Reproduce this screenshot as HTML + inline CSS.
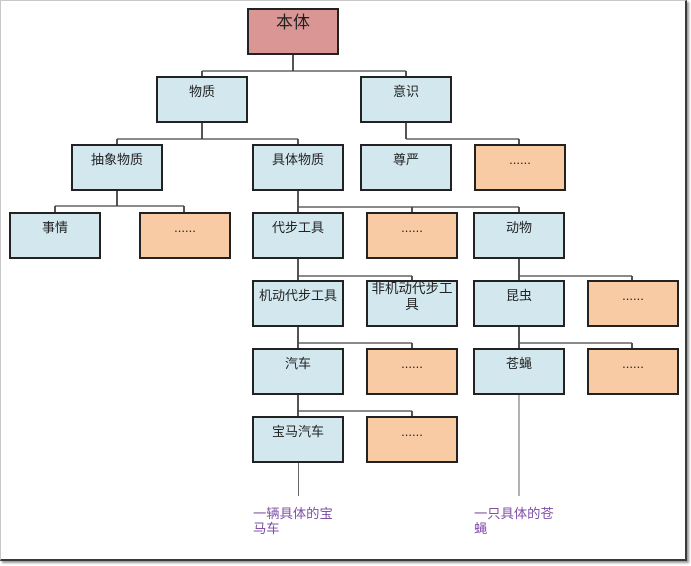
<!DOCTYPE html>
<html><head><meta charset="utf-8">
<style>
html,body{margin:0;padding:0;background:#fff;}
body{width:691px;height:566px;position:relative;overflow:hidden;font-family:"Liberation Sans","Noto Sans CJK SC",sans-serif;}
.frame{position:absolute;left:0;top:0;width:687px;height:561px;border-top:1px solid #c8c8c8;border-left:1px solid #c8c8c8;border-right:2px solid #3a3a3a;border-bottom:2px solid #3a3a3a;box-shadow:2px 2px 2px #999;box-sizing:border-box;}
.b{position:absolute;width:92px;height:47px;box-sizing:border-box;border:2px solid #222;background:#d2e8ee;color:#222;font-size:13px;line-height:16px;text-align:center;padding-top:6px;}
.o{background:#f8cba4;}
.p{background:#d99694;font-size:17px;line-height:20px;padding-top:3px;}
.n{position:absolute;color:#8050a8;font-size:13.3px;line-height:15px;width:90px;}
svg{position:absolute;left:0;top:0;}
</style></head><body>
<div class="frame"></div>
<svg width="691" height="566">
<g stroke="#2a2a2a" stroke-width="1.6" fill="none">
<path d="M293 54V71M202 71V77M406 71V77"/>
<path d="M202 122V139M117 139V144M298 139V144"/>
<path d="M406 122V139M519 139V144"/>
<path d="M117 190V206M55 206V212M184 206V212"/>
<path d="M298 190V207M298 207V212M412 207V212M519 207V212"/>
<path d="M298 258V280M412 276V280"/>
<path d="M519 258V280M632 276V280"/>
<path d="M298 326V348M412 343V348"/>
<path d="M519 326V348M632 343V348"/>
<path d="M298 394V416M412 411V416"/>
</g>
<g stroke="#444" stroke-width="1.3" fill="none">
<path d="M202 71H406"/>
<path d="M117 139H298"/>
<path d="M406 139H519"/>
<path d="M55 206H184"/>
<path d="M298 207H519"/>
<path d="M298 276H412"/>
<path d="M519 276H632"/>
<path d="M298 343H412"/>
<path d="M519 343H632"/>
<path d="M298 411H412"/>
</g>
<g stroke="#666" stroke-width="1" fill="none">
<path d="M298.5 462V496"/>
<path d="M519 394V496"/>
</g>
</svg>

<div class="b p" style="left:247px;top:8px;">本体</div>

<div class="b" style="left:156px;top:76px;">物质</div>
<div class="b" style="left:360px;top:76px;">意识</div>

<div class="b" style="left:71px;top:144px;">抽象物质</div>
<div class="b" style="left:252px;top:144px;">具体物质</div>
<div class="b" style="left:360px;top:144px;">尊严</div>
<div class="b o" style="left:474px;top:144px;">......</div>

<div class="b" style="left:9px;top:212px;">事情</div>
<div class="b o" style="left:139px;top:212px;">......</div>
<div class="b" style="left:252px;top:212px;">代步工具</div>
<div class="b o" style="left:366px;top:212px;">......</div>
<div class="b" style="left:473px;top:212px;">动物</div>

<div class="b" style="left:252px;top:280px;">机动代步工具</div>
<div class="b" style="left:366px;top:280px;padding-top:0;line-height:16px;font-size:13.5px;"><div style="margin-top:-1px;">非机动代步工<br>具</div></div>
<div class="b" style="left:473px;top:280px;">昆虫</div>
<div class="b o" style="left:587px;top:280px;">......</div>

<div class="b" style="left:252px;top:348px;">汽车</div>
<div class="b o" style="left:366px;top:348px;">......</div>
<div class="b" style="left:473px;top:348px;">苍蝇</div>
<div class="b o" style="left:587px;top:348px;">......</div>

<div class="b" style="left:252px;top:416px;">宝马汽车</div>
<div class="b o" style="left:366px;top:416px;">......</div>

<div class="n" style="left:253px;top:506px;">一辆具体的宝<br>马车</div>
<div class="n" style="left:474px;top:506px;">一只具体的苍<br>蝇</div>
</body></html>
